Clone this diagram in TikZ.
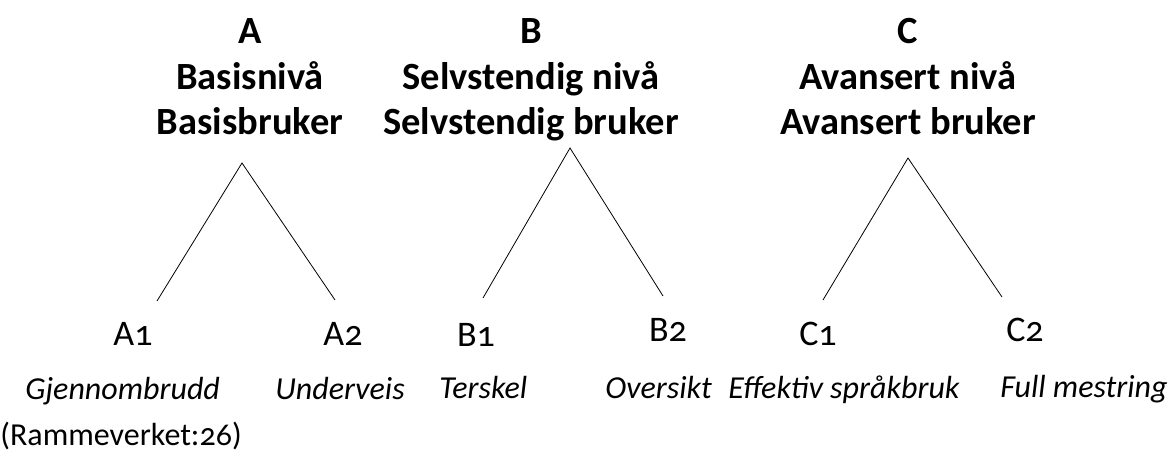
\documentclass[tikz,border=0pt]{standalone}
\usepackage{fontspec}
\setmainfont{Carlito}[Numbers=OldStyle]
\begin{document}
\begin{tikzpicture}[x=1pt,y=-1pt,line width=0.8pt,
    head/.style={font=\fontsize{38.5}{44}\selectfont\bfseries,anchor=base,inner sep=0pt},
    lvlbox/.style={font=\fontsize{36}{40}\selectfont,anchor=base,inner sep=0pt},
    desc/.style={font=\fontsize{32}{37}\selectfont\itshape,anchor=base west,inner sep=0pt}]
        \useasboundingbox (0,0) rectangle (1171,452);
        \node[head] (Ahead) at (250,44) {A};
        \node[head] (Aname) at (250,90) {Basisnivå};
        \node[head] (Auser) at (250,134) {Basisbruker};
        \node[head] (Bhead) at (531,44) {B};
        \node[head] (Bname) at (531,90) {Selvstendig nivå};
        \node[head] (Buser) at (531,134) {Selvstendig bruker};
        \node[head] (Chead) at (908,44) {C};
        \node[head] (Cname) at (908,90) {Avansert nivå};
        \node[head] (Cuser) at (908,134) {Avansert bruker};
        \coordinate (Atop) at (242,163);
        \coordinate (Aleft) at (157,301);
        \coordinate (Aright) at (335,300);
        \coordinate (Btop) at (570,148);
        \coordinate (Bleft) at (483,298);
        \coordinate (Bright) at (663,296);
        \coordinate (Ctop) at (908,158);
        \coordinate (Cleft) at (823,300);
        \coordinate (Cright) at (1002,297);
        \draw (Aleft) -- (Atop) -- (Aright);
        \draw (Bleft) -- (Btop) -- (Bright);
        \draw (Cleft) -- (Ctop) -- (Cright);
        \node[lvlbox] (A1) at (133,345) {A1};
        \node[lvlbox] (A2) at (343,345) {A2};
        \node[lvlbox] (B1) at (476,346) {B1};
        \node[lvlbox] (B2) at (668,341) {B2};
        \node[lvlbox] (C1) at (818,345) {C1};
        \node[lvlbox] (C2) at (1025,341) {C2};
        \node[desc] (A1txt) at (25,399) {Gjennombrudd};
        \node[desc] (A2txt) at (275,399) {Underveis};
        \node[desc] (B1txt) at (439,398) {Terskel};
        \node[desc] (B2txt) at (605,398) {Oversikt};
        \node[desc] (C1txt) at (728,398) {Effektiv språkbruk};
        \node[desc] (C2txt) at (1000,397) {Full mestring};
        \node[font=\fontsize{32}{37}\selectfont,anchor=base west,inner sep=0pt] (src) at (0,445) {(Rammeverket:26)};
\end{tikzpicture}
\end{document}
